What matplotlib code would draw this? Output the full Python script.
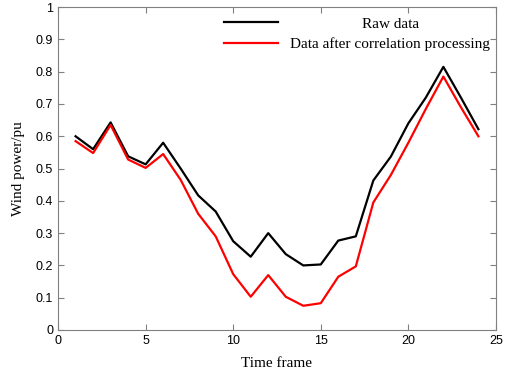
import matplotlib
matplotlib.use("Agg")
import matplotlib.pyplot as plt

t = list(range(1, 25))
raw = [0.600, 0.560, 0.643, 0.538, 0.513, 0.580, 0.500, 0.417, 0.367, 0.275, 0.227, 0.300,
       0.235, 0.200, 0.203, 0.277, 0.290, 0.463, 0.537, 0.640, 0.720, 0.815, 0.720, 0.622]
proc = [0.585, 0.548, 0.635, 0.528, 0.502, 0.545, 0.465, 0.360, 0.290, 0.173, 0.103, 0.170,
        0.103, 0.075, 0.083, 0.165, 0.197, 0.395, 0.480, 0.580, 0.685, 0.785, 0.690, 0.600]
xticks = [0, 5, 10, 15, 20, 25]
yticks = [0, 0.1, 0.2, 0.3, 0.4, 0.5, 0.6, 0.7, 0.8, 0.9, 1]
ytick_labels = ["0", "0.1", "0.2", "0.3", "0.4", "0.5", "0.6", "0.7", "0.8", "0.9", "1"]

fig = plt.figure(figsize=(5.05, 3.75), dpi=100)
ax = fig.add_axes([0.115, 0.12, 0.867, 0.861])
l1, = ax.plot(t, raw, color="black", lw=1.6)
l2, = ax.plot(t, proc, color="#ff0000", lw=1.6)
ax.set_xlim(0, 25)
ax.set_ylim(0, 1)
ax.set_xticks(xticks)
ax.set_yticks(yticks)
ax.set_yticklabels(ytick_labels)
for s in ax.spines.values():
    s.set_color("#808080")
    s.set_linewidth(0.8)
ax.tick_params(direction="in", top=True, right=True, length=4, color="#808080",
               labelsize=9)
for lab in ax.get_xticklabels() + ax.get_yticklabels():
    lab.set_fontfamily("Liberation Sans")
ax.set_xlabel("Time frame", fontfamily="Liberation Serif", fontsize=11, labelpad=7)
ax.set_ylabel("Wind power/pu", fontfamily="Liberation Serif", fontsize=11, labelpad=8)
leg = ax.legend([l1, l2], ["Raw data", "Data after correlation processing"],
                frameon=False, loc="upper right", bbox_to_anchor=(1.018, 1.012),
                prop={"family": "Liberation Serif", "size": 11},
                handlelength=3.5, handletextpad=0.8, labelspacing=0.45)
fig.canvas.draw()
r = fig.canvas.get_renderer()
texts = leg.get_texts()
w0 = texts[0].get_window_extent(r).width
w1 = texts[1].get_window_extent(r).width
texts[0].set_x((w1 - w0) / 2)
fig.savefig("out.png", dpi=100)
